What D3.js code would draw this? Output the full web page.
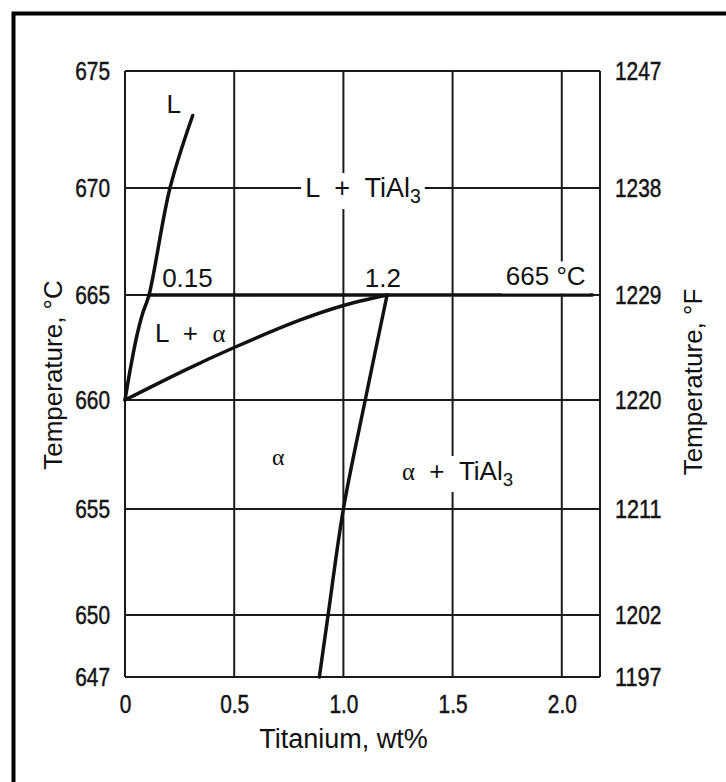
<!DOCTYPE html>
<html>
<head>
<meta charset="utf-8">
<script src="https://cdn.jsdelivr.net/npm/d3@7/dist/d3.min.js"></script>
<style>
	body { margin: 0; background: #fff; }
	svg { display: block; }
	.axis text { font-family: "Liberation Sans", Arial, sans-serif; font-size: 25px; fill: #151515; stroke: #151515; stroke-width: 0.5px; }
	.axis .domain { display: none; }
	.lbl { font-family: "Liberation Sans", Arial, sans-serif; fill: #111; white-space: pre; }
	.greek { font-family: "Liberation Serif", "DejaVu Serif", serif; }
</style>
</head>
<body>
<div id="chart"></div>
<script>
// Al-Ti phase diagram, aluminium-rich corner
var tempC = [647, 650, 655, 660, 665, 670, 675];
var tempF = [1197, 1202, 1211, 1220, 1229, 1238, 1247];
var tiTicks = [0, 0.5, 1.0, 1.5, 2.0];

// boundary lines, [wt% Ti, deg C]
var liquidus = [[0, 660], [0.023, 661.4], [0.053, 663.0], [0.08, 664.1], [0.11, 665], [0.206, 670], [0.31, 673.1]];
var solidus = [[0, 660], [0.28, 661.45], [0.5, 662.5], [0.8, 663.8], [1.0, 664.5], [1.2, 665]];
var solvus = [[1.2, 665], [1.1, 660], [1.0, 655], [0.93, 650], [0.89, 647]];
var peritectic = [[0.11, 665], [2.14, 665]];

var width = 726, height = 782;

var svg = d3.select("#chart")
	.append("svg")
	.attr("width", width)
	.attr("height", height);

var xPositionScale = d3.scaleLinear().domain([0, 2.175]).range([125, 600]);
// the scanned axis is not quite even, so the scale is piecewise
var yPositionScale = d3.scaleLinear()
	.domain(tempC)
	.range([677, 615, 509, 400, 295, 188, 71]);

// page frame (top and left edges only)
svg.append("path")
	.attr("d", "M13.5,782V13.5H726")
	.attr("fill", "none")
	.attr("stroke", "#000")
	.attr("stroke-width", 4);

// grid
svg.selectAll(".hgrid")
	.data(tempC)
	.enter()
	.append("line")
	.attr("class", "hgrid")
	.attr("x1", xPositionScale(0))
	.attr("x2", xPositionScale(2.175))
	.attr("y1", function(d) { return yPositionScale(d) })
	.attr("y2", function(d) { return yPositionScale(d) })
	.attr("stroke", "#1a1a1a")
	.attr("stroke-width", 2);

svg.selectAll(".vgrid")
	.data(tiTicks.concat([2.175]))
	.enter()
	.append("line")
	.attr("class", "vgrid")
	.attr("x1", function(d) { return xPositionScale(d) })
	.attr("x2", function(d) { return xPositionScale(d) })
	.attr("y1", yPositionScale(647))
	.attr("y2", yPositionScale(675))
	.attr("stroke", "#1a1a1a")
	.attr("stroke-width", 2);

var line = d3.line()
	.x(function(d) { return xPositionScale(d[0]) })
	.y(function(d) { return yPositionScale(d[1]) })
	.curve(d3.curveCatmullRom.alpha(0.5));

[liquidus, solidus, solvus, peritectic].forEach(function(pts) {
	svg.append("path")
		.datum(pts)
		.attr("d", line)
		.attr("fill", "none")
		.attr("stroke", "#111")
		.attr("stroke-width", 3.5)
		.attr("stroke-linecap", "round");
});

// axes
// the tick figures in the scan are condensed, squeeze them to fit
function narrow(sel) {
	sel.selectAll(".tick text")
		.attr("lengthAdjust", "spacingAndGlyphs")
		.attr("textLength", function() {
			var s = this.textContent, w = 0;
			for (var i = 0; i < s.length; i++) w += s[i] === "." ? 5.8 : 11.6;
			return w;
		});
}

var yAxisLeft = d3.axisLeft(yPositionScale).tickValues(tempC).tickSize(0).tickPadding(15);
svg.append("g")
	.attr("class", "axis y-axis")
	.attr("transform", "translate(" + xPositionScale(0) + ",0)")
	.call(yAxisLeft)
	.call(narrow);

var yAxisRight = d3.axisRight(yPositionScale)
	.tickValues(tempC)
	.tickFormat(function(d) { return tempF[tempC.indexOf(d)] })
	.tickSize(0)
	.tickPadding(15);
svg.append("g")
	.attr("class", "axis y-axis-f")
	.attr("transform", "translate(" + xPositionScale(2.175) + ",0)")
	.call(yAxisRight)
	.call(narrow);

var xAxis = d3.axisBottom(xPositionScale)
	.tickValues(tiTicks)
	.tickFormat(function(d) { return d === 0 ? "0" : d.toFixed(1) })
	.tickSize(0)
	.tickPadding(18);
svg.append("g")
	.attr("class", "axis x-axis")
	.attr("transform", "translate(0," + yPositionScale(647) + ")")
	.call(xAxis)
	.call(narrow);

// field labels; mask = white box that breaks the grid under the text
function addLabel(parts, xv, yv, size, mask) {
	var t = svg.append("text")
		.attr("class", "lbl")
		.attr("x", xPositionScale(xv))
		.attr("y", yPositionScale(yv))
		.attr("font-size", size);
	parts.forEach(function(p) {
		var s = t.append("tspan").text(p.s);
		if (p.greek) s.attr("class", "greek").attr("font-size", size * 0.95);
		if (p.sub) s.attr("font-size", size * 0.72).attr("dy", 6);
	});
	if (mask) {
		var b = t.node().getBBox();
		svg.insert("rect", function() { return t.node() })
			.attr("x", b.x - 4)
			.attr("y", b.y)
			.attr("width", b.width + 8)
			.attr("height", b.height + 2)
			.attr("fill", "#fff");
	}
	return t;
}

addLabel([{s: "L"}], 0.19, 673.2, 26, false);
addLabel([{s: "L  +  TiAl"}, {s: "3", sub: true}], 0.825, 669.58, 27, true);
addLabel([{s: "0.15"}], 0.17, 665.37, 26, false);
addLabel([{s: "1.2"}], 1.098, 665.37, 26, false);
addLabel([{s: "665 °C"}], 1.744, 665.45, 26, true);
addLabel([{s: "L  +  "}, {s: "α", greek: true}], 0.137, 662.76, 26, false);
addLabel([{s: "α", greek: true}], 0.673, 657.02, 25, false);
addLabel([{s: "α", greek: true}, {s: "  +  TiAl"}, {s: "3", sub: true}], 1.268, 656.33, 26, true);

// axis titles
svg.append("text")
	.attr("class", "lbl")
	.attr("transform", "translate(62,375) rotate(-90)")
	.attr("text-anchor", "middle")
	.attr("font-size", 26)
	.text("Temperature, °C");

svg.append("text")
	.attr("class", "lbl")
	.attr("transform", "translate(702,382) rotate(-90)")
	.attr("text-anchor", "middle")
	.attr("font-size", 26)
	.text("Temperature, °F");

svg.append("text")
	.attr("class", "lbl")
	.attr("x", 343.5)
	.attr("y", 748)
	.attr("text-anchor", "middle")
	.attr("font-size", 27)
	.text("Titanium, wt%");
</script>
</body>
</html>
